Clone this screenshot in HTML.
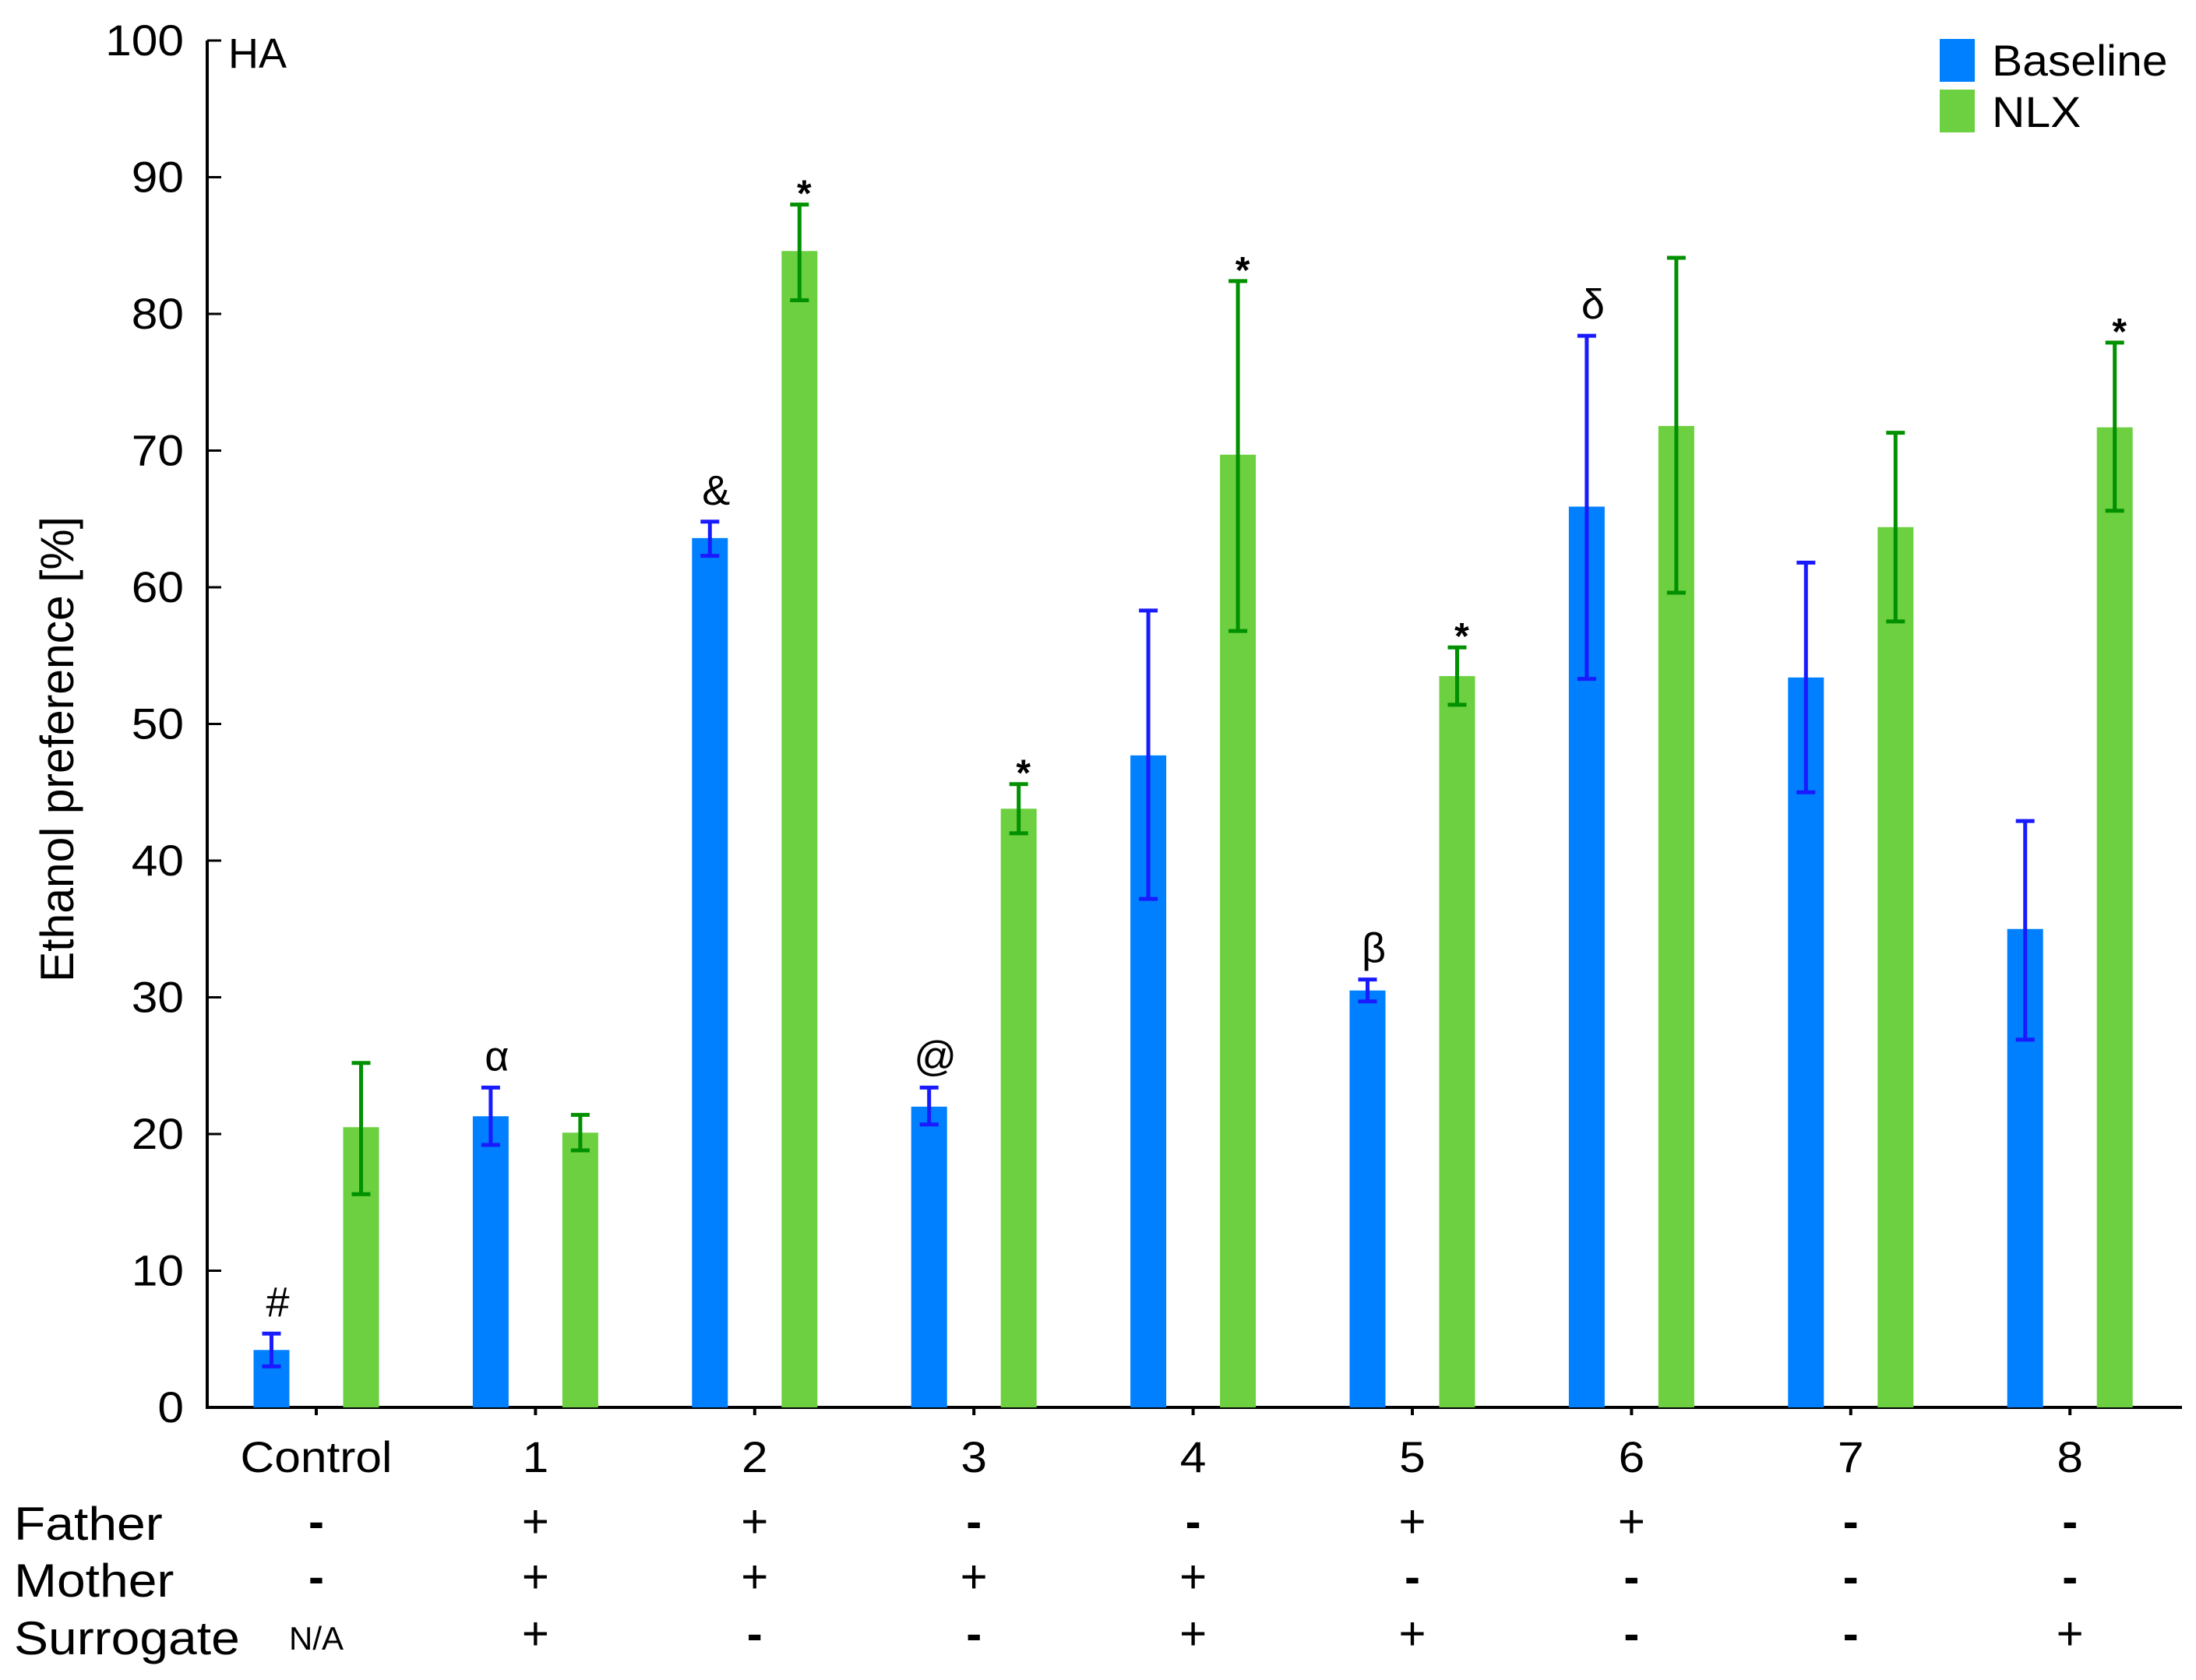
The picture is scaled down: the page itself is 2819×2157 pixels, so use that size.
<!DOCTYPE html>
<html><head><meta charset="utf-8"><style>
html,body{margin:0;padding:0;background:#fff;}
svg{display:block;font-family:"Liberation Sans",sans-serif;}
</style></head><body>
<svg id="chart" width="2819" height="2157" viewBox="0 0 2819 2157" xmlns="http://www.w3.org/2000/svg">
<g id="axes"></g><g id="bars"></g><g id="labels"></g>
</svg>
<script>
const categories=["Control","1","2","3","4","5","6","7","8"];
const baseline=[4.2,21.3,63.6,22.0,47.7,30.5,65.9,53.4,35.0];
const baselineHi=[5.4,23.4,64.8,23.4,58.3,31.3,78.4,61.8,42.9];
const baselineLo=[3.0,19.2,62.3,20.7,37.2,29.7,53.3,45.0,26.9];
const nlx=[20.5,20.1,84.6,43.8,69.7,53.5,71.8,64.4,71.7];
const nlxHi=[25.2,21.4,88.0,45.6,82.4,55.6,84.1,71.3,77.9];
const nlxLo=[15.6,18.8,81.0,42.0,56.8,51.4,59.6,57.5,65.6];
const baselineMarks=["#","α","&","@","","β","δ","",""];
const nlxMarks=["","","*","*","*","*","","","*"];
const yTicks=[0,10,20,30,40,50,60,70,80,90,100];
const father=["-","+","+","-","-","+","+","-","-"];
const mother=["-","+","+","+","+","-","-","-","-"];
const surrogate=["N/A","+","-","-","+","+","-","-","+"];

const NS="http://www.w3.org/2000/svg";
const y0=1807, yScale=17.55, x0=406, step=281.4, off=57.5, bw=46;
const Y=v=>y0-v*yScale, X=i=>x0+i*step;
function mk(tag,attrs,parent,text){const e=document.createElementNS(NS,tag);for(const k in attrs)e.setAttribute(k,attrs[k]);if(text!==undefined)e.textContent=text;parent.appendChild(e);return e;}
const axes=document.getElementById('axes'),bars=document.getElementById('bars'),labels=document.getElementById('labels');

let e=mk('line',{x1:266,y1:Y(0),x2:2801,y2:Y(0),stroke:'#000','stroke-width':4},axes);


e=mk('line',{x1:266,y1:Y(0)+2,x2:266,y2:Y(100),stroke:'#000','stroke-width':4},axes);


yTicks.forEach(t=>{
  e=mk('line',{x1:266,y1:Y(t),x2:284,y2:Y(t),stroke:'#000','stroke-width':3},axes);
  
  
  e=mk('text',{x:236,y:Y(t)+19,'font-size':56,'text-anchor':'end',transform:`translate(236,0) scale(1.08,1) translate(-236,0)`},axes,String(t));
  
  
});
e=mk('text',{x:293,y:87,'font-size':54},axes,"HA");


e=mk('text',{x:0,y:0,'font-size':60,'text-anchor':'middle',transform:'translate(94,962) rotate(-90) scale(0.98,1)'},axes,"Ethanol preference [%]");



function errBar(cx,hi,lo,color){
  const g=mk('g',{stroke:color,'stroke-width':5},bars);
  mk('line',{x1:cx,y1:Y(hi),x2:cx,y2:Y(lo)},g);
  mk('line',{x1:cx-12,y1:Y(hi),x2:cx+12,y2:Y(hi)},g);
  mk('line',{x1:cx-12,y1:Y(lo),x2:cx+12,y2:Y(lo)},g);
  return g;
}
categories.forEach((c,i)=>{
  const cx=X(i);
  e=mk('line',{x1:cx,y1:Y(0),x2:cx,y2:Y(0)+10,stroke:'#000','stroke-width':4},axes);
  
  
  const bx=cx-off, gx=cx+off;
  e=mk('rect',{x:bx-bw/2,y:Y(baseline[i]),width:bw,height:baseline[i]*yScale,fill:'#0080ff'},bars);
  
  
  e=mk('rect',{x:gx-bw/2,y:Y(nlx[i]),width:bw,height:nlx[i]*yScale,fill:'#6cd040'},bars);
  
  
  e=errBar(bx,baselineHi[i],baselineLo[i],'#1a1aff');
  
  
  e=errBar(gx,nlxHi[i],nlxLo[i],'#009000');
  
  
  if(baselineMarks[i]){
    e=mk('text',{x:bx+8,y:Y(baselineHi[i])-22,'font-size':54,'text-anchor':'middle'},labels,baselineMarks[i]);
    
    
  }
  if(nlxMarks[i]){
    e=mk('text',{x:gx+6,y:Y(nlxHi[i])+2,'font-size':48,'font-weight':'bold','text-anchor':'middle'},labels,nlxMarks[i]);
    
    
  }
  e=mk('text',{x:cx,y:1890,'font-size':56,'text-anchor':'middle',transform:`translate(${cx},0) scale(1.08,1) translate(${-cx},0)`},labels,c);
  
  
  [[father,1974],[mother,2045],[surrogate,2118]].forEach(([arr,yy])=>{
    const v=arr[i];
    const sym=v==="-"?"-":v;
    e=mk('text',{x:cx,y:yy,'font-size':v==="N/A"?42:60,'font-weight':v==="-"?'bold':'normal','text-anchor':'middle'},labels,sym);
    
    
  });
});
[["Father",1977],["Mother",2050],["Surrogate",2124]].forEach(([t,yy])=>{
  e=mk('text',{x:18,y:yy,'font-size':60,transform:`translate(18,0) scale(1.1,1) translate(-18,0)`},labels,t);
  
  
});
e=mk('rect',{x:2490,y:50,width:45,height:55,fill:'#0080ff'},labels);


e=mk('rect',{x:2490,y:115,width:45,height:55,fill:'#6cd040'},labels);


e=mk('text',{x:2557,y:97,'font-size':56,transform:'translate(2557,0) scale(1.05,1) translate(-2557,0)'},labels,"Baseline");


e=mk('text',{x:2557,y:163,'font-size':56,transform:'translate(2557,0) scale(1.05,1) translate(-2557,0)'},labels,"NLX");


</script>
</body></html>
